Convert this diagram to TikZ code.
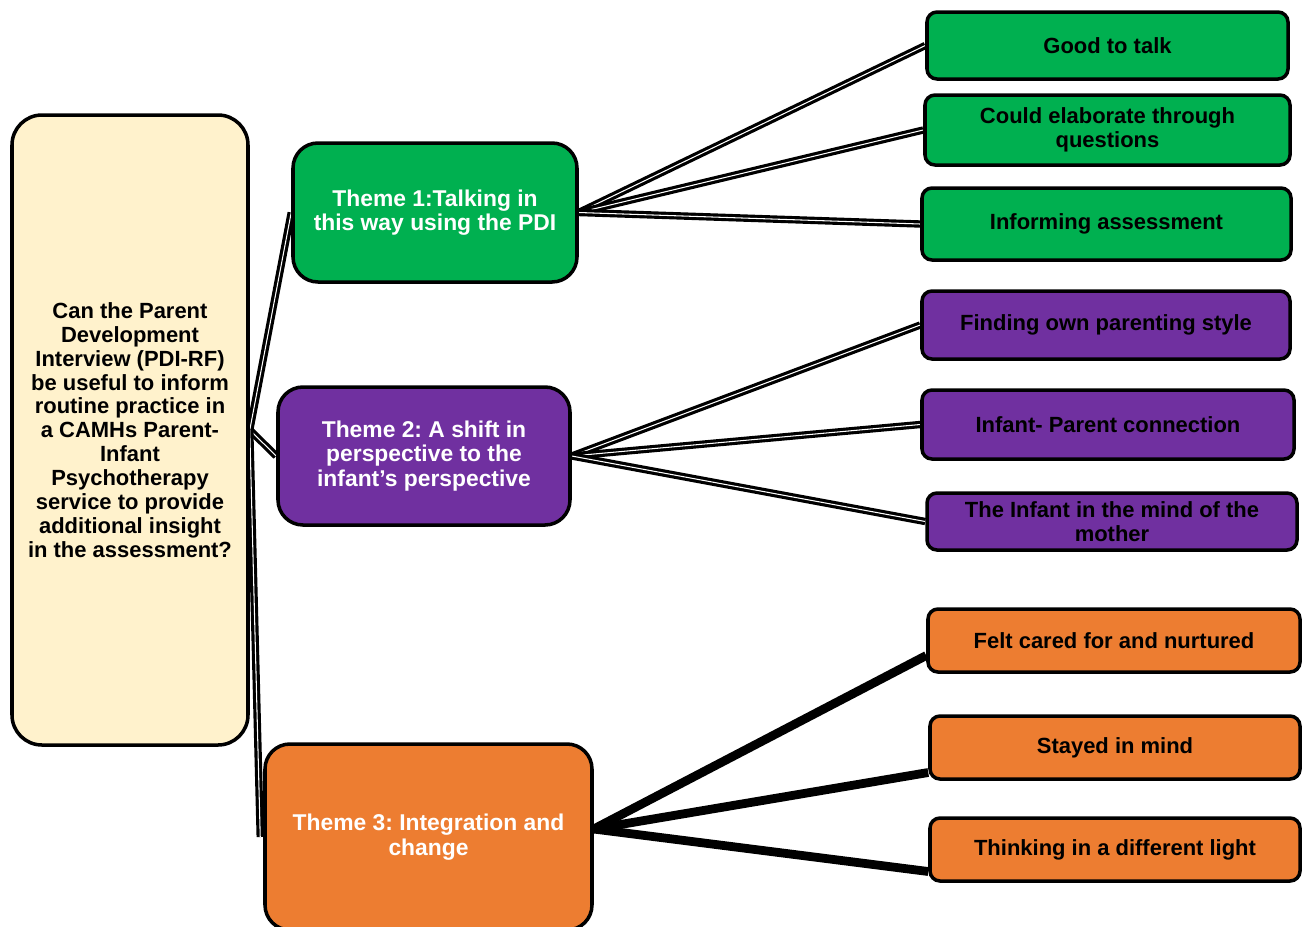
\documentclass[tikz,border=0pt]{standalone}
\usepackage{fontspec}
\setmainfont{Liberation Sans}
\usetikzlibrary{backgrounds}
\definecolor{qcream}{HTML}{FFF2CC}
\definecolor{tgreen}{HTML}{00B050}
\definecolor{tpurple}{HTML}{7030A0}
\definecolor{torange}{HTML}{ED7D31}
\frenchspacing
\tikzset{
  box/.style={draw, line width=2pt, align=center, inner sep=0pt,
    font=\fontsize{12.5}{13.6}\selectfont\bfseries},
  theme/.style={box, rounded corners=0.5cm, text=white,
    font=\fontsize{13}{13.9}\selectfont\bfseries},
  leaf/.style={box, rounded corners=0.2cm},
  link/.style={draw=black, line width=1.8pt, double=white, double distance=0.6pt},
  fat/.style={draw=black, line width=5pt}
}
\begin{document}
\begin{tikzpicture}
\useasboundingbox (0,0) rectangle (26.14,-18.52);
\node[box, rounded corners=0.6cm, fill=qcream, minimum width=4.72cm, minimum height=12.6cm] (q) at (2.6,-8.6) {Can the Parent\\Development\\Interview (PDI-RF)\\be useful to inform\\routine practice in\\a CAMHs Parent-\\Infant\\Psychotherapy\\service to provide\\additional insight\\in the assessment?};
\node[theme, fill=tgreen, minimum width=5.68cm, minimum height=2.78cm] (t1) at (8.7,-4.25) {Theme 1:Talking in\\this way using the PDI};
\node[theme, fill=tpurple, minimum width=5.84cm, minimum height=2.76cm] (t2) at (8.48,-9.12) {Theme 2: A shift in\\perspective to the\\infant's perspective};
\node[theme, fill=torange, minimum width=6.54cm, minimum height=3.72cm] (t3) at (8.57,-16.74) {Theme 3: Integration and\\change};
\node[leaf, fill=tgreen, minimum width=7.22cm, minimum height=1.34cm] (talk) at (22.15,-0.91) {Good to talk};
\node[leaf, fill=tgreen, minimum width=7.3cm, minimum height=1.4cm] (elab) at (22.15,-2.6) {Could elaborate through\\questions};
\node[leaf, fill=tgreen, minimum width=7.38cm, minimum height=1.44cm] (assess) at (22.13,-4.48) {Informing assessment};
\node[leaf, fill=tpurple, minimum width=7.36cm, minimum height=1.36cm] (style) at (22.12,-6.5) {Finding own parenting style};
\node[leaf, fill=tpurple, minimum width=7.44cm, minimum height=1.38cm] (conn) at (22.16,-8.49) {Infant- Parent connection};
\node[leaf, fill=tpurple, minimum width=7.4cm, minimum height=1.14cm] (mind) at (22.24,-10.43) {The Infant in the mind of the\\mother};
\node[leaf, fill=torange, minimum width=7.44cm, minimum height=1.26cm] (cared) at (22.28,-12.81) {Felt cared for and nurtured};
\node[leaf, fill=torange, minimum width=7.4cm, minimum height=1.26cm] (stayed) at (22.3,-14.95) {Stayed in mind};
\node[leaf, fill=torange, minimum width=7.4cm, minimum height=1.26cm] (light) at (22.3,-16.99) {Thinking in a different light};
\begin{scope}[on background layer]
\path[link] (q.east) -- (t1.west);
\path[link] (q.east) -- (t2.west);
\path[link] (q.east) -- ([xshift=-0.06cm]t3.west);
\path[link] (t1.east) -- (talk.west);
\path[link] (t1.east) -- (elab.west);
\path[link] (t1.east) -- (assess.west);
\path[link] (t2.east) -- (style.west);
\path[link] (t2.east) -- (conn.west);
\path[link] (t2.east) -- (mind.west);
\path[fat] ([yshift=0.16cm]t3.east) -- ([yshift=-0.3cm]cared.west);
\path[fat] ([yshift=0.16cm]t3.east) -- ([yshift=-0.5cm]stayed.west);
\path[fat] ([yshift=0.16cm]t3.east) -- ([yshift=-0.44cm]light.west);
\end{scope}
\end{tikzpicture}
\end{document}
